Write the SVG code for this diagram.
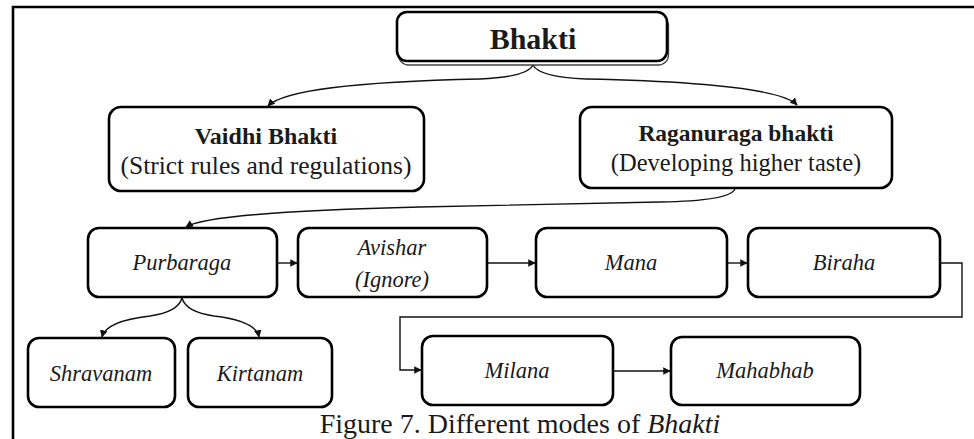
<svg xmlns="http://www.w3.org/2000/svg" width="974" height="439" viewBox="0 0 974 439">
<style>
.box{fill:#fff;stroke:#000;stroke-width:2.6}
.shadow{fill:none;stroke:#444;stroke-width:1.3}
.c{fill:none;stroke:#111;stroke-width:1.4}
.t{font-family:"Liberation Serif","Times New Roman",serif;fill:#1a1a1a;text-anchor:middle}
.b{font-weight:bold}
.i{font-style:italic}
.frame{stroke:#000;stroke-width:2.6;fill:none}
</style>
<defs>
<marker id="ah" viewBox="0 0 10 10" refX="9" refY="5" markerWidth="7.5" markerHeight="7.5" markerUnits="userSpaceOnUse" orient="auto">
<path d="M0,0 L10,5 L0,10 z" fill="#111"/>
</marker>
</defs>
<rect width="974" height="439" fill="#fff"/>
<path class="frame" d="M13,439 V7 H974"/>

<g id="connectors">
<path class="c" marker-end="url(#ah)" d="M533,65 Q527,77 480,79 Q290,83 268,106"/>
<path class="c" marker-end="url(#ah)" d="M533,65 Q539,77 586,79 Q776,83 797,105"/>
<path class="c" marker-end="url(#ah)" d="M735,189 Q729,201 660,202 L420,207 Q210,212 186,227"/>
<path class="c" marker-end="url(#ah)" d="M182,298 Q178,312 150,316 Q106,321 102,337"/>
<path class="c" marker-end="url(#ah)" d="M182,298 Q186,312 214,316 Q256,321 259,337"/>
<path class="c" marker-end="url(#ah)" d="M277,263 H297"/>
<path class="c" marker-end="url(#ah)" d="M487,263 H535"/>
<path class="c" marker-end="url(#ah)" d="M727,263 H747"/>
<path class="c" marker-end="url(#ah)" d="M940,263 H962 V317 H400 V370 H421"/>
<path class="c" marker-end="url(#ah)" d="M613,371 H670"/>
</g>

<g id="bhakti">
<rect class="shadow" x="398.5" y="16" width="270" height="49" rx="10"/>
<rect class="box" x="397" y="12" width="270" height="49" rx="10"/>
<text class="t b" x="533" y="49" font-size="30">Bhakti</text>
</g>
<g id="vaidhi">
<rect class="box" x="109" y="107" width="315" height="84" rx="12"/>
<text class="t b" x="266" y="144" font-size="24">Vaidhi Bhakti</text>
<text class="t" x="266" y="174" font-size="25.5">(Strict rules and regulations)</text>
</g>
<g id="raganuraga">
<rect class="box" x="580" y="107" width="312" height="81" rx="12"/>
<text class="t b" x="736" y="141" font-size="23.5">Raganuraga bhakti</text>
<text class="t" x="736" y="171" font-size="24.5">(Developing higher taste)</text>
</g>
<g id="purbaraga">
<rect class="box" x="88" y="228" width="189" height="69" rx="11"/>
<text class="t i" x="182" y="270" font-size="22.5">Purbaraga</text>
</g>
<g id="avishar">
<rect class="box" x="298" y="228" width="189" height="69" rx="11"/>
<text class="t i" x="392" y="255" font-size="22.5">Avishar</text>
<text class="t i" x="392" y="287" font-size="22.5">(Ignore)</text>
</g>
<g id="mana">
<rect class="box" x="536" y="228" width="191" height="69" rx="11"/>
<text class="t i" x="631" y="270" font-size="22.5">Mana</text>
</g>
<g id="biraha">
<rect class="box" x="748" y="228" width="192" height="69" rx="11"/>
<text class="t i" x="844" y="270" font-size="22.5">Biraha</text>
</g>
<g id="shravanam">
<rect class="box" x="28" y="338" width="147" height="69" rx="11"/>
<text class="t i" x="101" y="381" font-size="22.5">Shravanam</text>
</g>
<g id="kirtanam">
<rect class="box" x="188" y="338" width="144" height="69" rx="11"/>
<text class="t i" x="260" y="381" font-size="22.5">Kirtanam</text>
</g>
<g id="milana">
<rect class="box" x="422" y="336" width="191" height="69" rx="11"/>
<text class="t i" x="517" y="378" font-size="22.5">Milana</text>
</g>
<g id="mahabhab">
<rect class="box" x="671" y="337" width="189" height="68" rx="11"/>
<text class="t i" x="765" y="378" font-size="22.5">Mahabhab</text>
</g>
<text class="t" x="520" y="433" font-size="28">Figure 7. Different modes of <tspan font-style="italic">Bhakti</tspan></text>
</svg>
